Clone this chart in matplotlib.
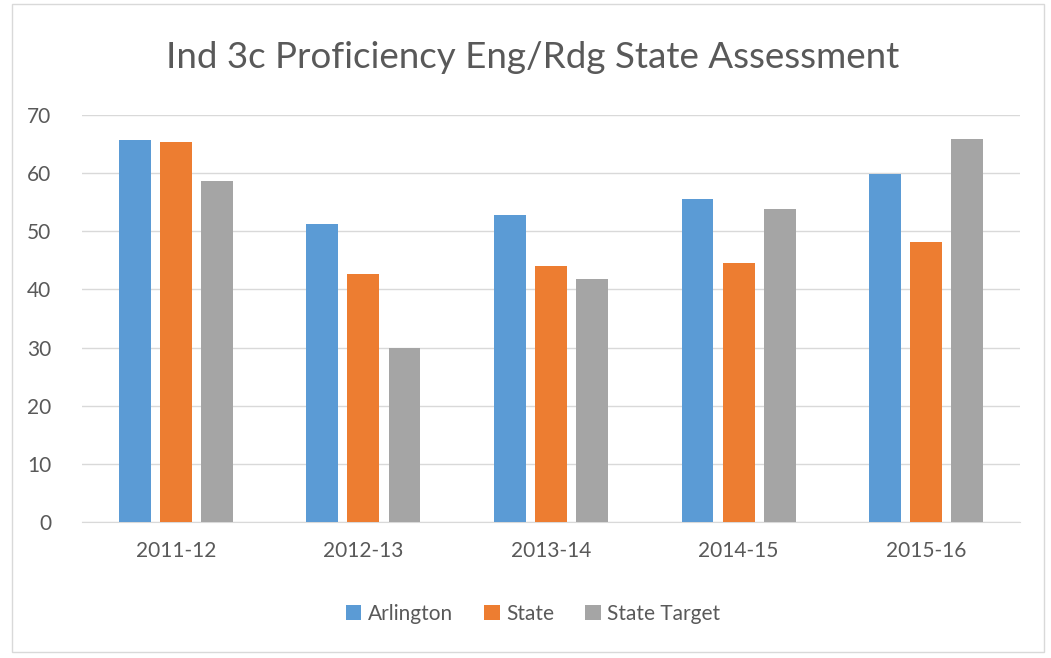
import numpy as np
import matplotlib
matplotlib.use('Agg')
import matplotlib.pyplot as plt
from matplotlib.patches import Rectangle

years = ['2011-12', '2012-13', '2013-14', '2014-15', '2015-16']
arlington = [65.7, 51.2, 52.8, 55.5, 59.8]
state = [65.3, 42.6, 44.1, 44.6, 48.1]
state_target = [58.7, 29.9, 41.8, 53.9, 65.8]

series = ['Arlington', 'State', 'State Target']
colors = ['#5B9BD5', '#ED7D31', '#A5A5A5']

plt.rcParams['font.family'] = ['Lato', 'DejaVu Sans']
text_color = '#595959'

fig = plt.figure(figsize=(10.51, 6.58), dpi=100)
ax = fig.add_axes([82 / 1051, 1 - 522 / 658, (1020 - 82) / 1051, (522 - 115) / 658])

x = np.arange(len(years))
width = 0.17
step = 0.219
for i, (vals, name, c) in enumerate(zip([arlington, state, state_target], series, colors)):
    ax.bar(x + (i - 1) * step, vals, width, color=c, label=name, zorder=3)

ax.set_xlim(-0.5, len(years) - 0.5)
ax.set_ylim(0, 70)
ax.set_yticks(range(0, 71, 10))
ax.set_xticks(x)
ax.set_xticklabels(years)
ax.grid(axis='y', color='#D9D9D9', linewidth=1, zorder=0)
for s in ['top', 'right', 'left']:
    ax.spines[s].set_visible(False)
ax.spines['bottom'].set_color('#D9D9D9')
ax.tick_params(axis='both', length=0, labelsize=15, colors=text_color)
ax.tick_params(axis='x', pad=14)
ax.tick_params(axis='y', pad=22)

fig.text(0.507, 1 - 57 / 658, 'Ind 3c Proficiency Eng/Rdg State Assessment',
         ha='center', va='center', fontsize=26.5, color=text_color)

fig.legend(loc='center', bbox_to_anchor=(0.507, 1 - 614 / 658), ncol=3, frameon=False,
           fontsize=15, labelcolor=text_color, handlelength=0.75, handleheight=0.75,
           handletextpad=0.3, columnspacing=1.5)

fig.patches.append(Rectangle((12 / 1051, 1 - 652 / 658), (1044 - 12) / 1051, (652 - 4) / 658,
                             transform=fig.transFigure, fill=False, edgecolor='#D9D9D9', linewidth=1))

fig.savefig('out.png', dpi=100)
